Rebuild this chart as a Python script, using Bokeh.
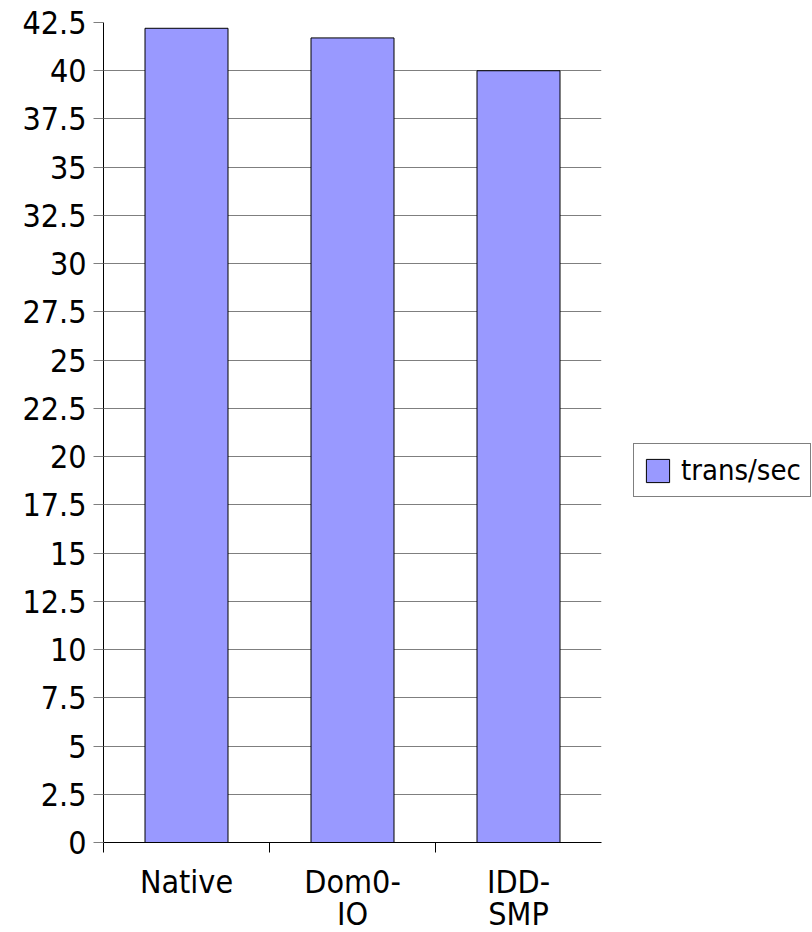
from bokeh.plotting import figure
from bokeh.models import (ColumnDataSource, FixedTicker, Legend, LegendItem,
                          Range1d)
from bokeh.embed import file_html
from bokeh.resources import INLINE

# ---- data ----
categories = ["Native", "Dom0-\nIO", "IDD-\nSMP"]
trans_per_sec = [42.2, 41.7, 40.0]
y_ticks = [0, 2.5, 5, 7.5, 10, 12.5, 15, 17.5, 20, 22.5, 25, 27.5, 30,
           32.5, 35, 37.5, 40, 42.5]
series_name = "trans/sec"

FONT = "'DejaVu Sans Condensed', 'DejaVu Sans'"

xpos = [i + 0.5 for i in range(len(categories))]
src = ColumnDataSource(dict(x=xpos, top=trans_per_sec))

p = figure(output_backend="svg", toolbar_location=None,
           frame_width=498, frame_height=820,
           min_border_left=103, min_border_top=22, min_border_right=211,
           min_border_bottom=88,
           x_range=Range1d(0, len(categories)), y_range=Range1d(0, 42.5))
p.outline_line_color = None
p.background_fill_color = "white"

r = p.vbar(x="x", top="top", width=0.5, source=src,
           fill_color="#9999ff", line_color="black", line_width=1)

# y axis
p.yaxis.ticker = FixedTicker(ticks=y_ticks)
p.yaxis.major_label_overrides = {t: (f"{t:g}") for t in y_ticks}
p.yaxis.axis_line_color = "black"
p.yaxis.major_tick_in = 0
p.yaxis.major_tick_out = 10
p.yaxis.major_tick_line_color = "#7f7f7f"
p.yaxis.minor_tick_line_color = None
p.yaxis.major_label_text_font = FONT
p.yaxis.major_label_text_font_size = "32px"
p.yaxis.major_label_text_color = "black"
p.yaxis.major_label_standoff = 7

# x axis
p.xaxis.ticker = FixedTicker(ticks=xpos, minor_ticks=list(range(len(categories))))
p.xaxis.major_label_overrides = {x: c for x, c in zip(xpos, categories)}
p.xaxis.axis_line_color = "black"
p.xaxis.major_tick_line_color = None
p.xaxis.major_tick_out = 0
p.xaxis.major_tick_in = 0
p.xaxis.minor_tick_in = 0
p.xaxis.minor_tick_out = 10
p.xaxis.minor_tick_line_color = "black"
p.xaxis.major_label_text_font = FONT
p.xaxis.major_label_text_font_size = "32px"
p.xaxis.major_label_text_color = "black"
p.xaxis.major_label_text_line_height = 0.85
p.xaxis.major_label_standoff = 10

# grid
p.xgrid.grid_line_color = None
p.ygrid.grid_line_color = "#7f7f7f"
p.ygrid.grid_line_width = 1

legend = Legend(items=[LegendItem(label=series_name, renderers=[r])],
                location=(32, 345), orientation="vertical")
legend.label_text_font = FONT
legend.label_text_font_size = "29px"
legend.label_text_color = "black"
legend.label_standoff = 9
legend.glyph_width = 29
legend.glyph_height = 29
legend.label_height = 29
legend.padding = 9
legend.margin = 0
legend.spacing = 0
legend.border_line_color = "black"
legend.border_line_width = 1
legend.background_fill_alpha = 1
p.add_layout(legend, "right")

open("out.html", "w").write(file_html(p, INLINE))
